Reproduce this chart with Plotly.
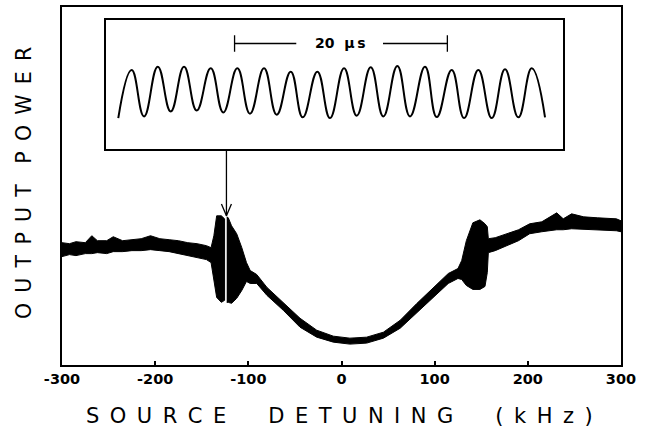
import plotly.graph_objects as go

# ---------------- data ----------------
# Main trace: envelope of the (noisy) output power vs. source detuning.
# None marks the thin white gap inside the left burst.
detuning_khz = [-300, -292, -285, -275, -268, -262, -252, -245, -235, -225,
                -215, -205, -195, -185, -175, -165, -155, -145, -140, -137,
                -134, -129, -125.5, None, -123.2, -121.5, -118, -112.5, -107, -102,
                -98, -91, -80, -62.5, -44.5, -26.6, -8.8, 9, 27, 45,
                63, 81, 98.5, 114.6, 125, 129, 134, 141, 148.6, 154,
                156.5, 157.6, 165, 177, 190, 202, 215, 231, 238, 247,
                260, 275, 295, 300]
power_upper = [123, 122, 124, 123, 130, 125, 125, 129, 125, 126,
               127, 130, 127, 126, 125, 123, 122, 120, 118, 130,
               150, 150, 147, None, 149, 148, 140, 132, 118, 103,
               95, 91, 78, 63, 47, 35, 29, 27, 28, 33,
               45, 62, 78, 92, 97, 105, 125, 143, 146, 142,
               139, 127, 128, 132, 136, 142, 144, 153, 147, 152,
               149, 148, 147, 145]
power_lower = [109, 111, 110, 112, 112, 113, 112, 114, 114, 115,
               115, 116, 115, 114, 112, 110, 108, 106, 103, 85,
               68, 63, 65, None, 63, 63, 62, 67, 75, 84,
               82, 82, 70, 55, 38, 28, 23, 21, 22, 27,
               37, 52, 68, 82, 87, 86, 80, 76, 76, 79,
               93, 113, 115, 120, 125, 132, 134, 136, 136, 137,
               137, 136, 135, 134]

# Inset oscilloscope trace (extrema of the beat signal), time in microseconds
inset_time_us = [1.17, 2.43, 3.59, 4.88, 6.10, 7.35, 8.54, 9.86, 11.04, 12.36,
                 13.55, 14.87, 16.06, 17.38, 18.51, 19.88, 21.07, 22.39, 23.58, 24.90,
                 26.08, 27.40, 28.59, 30.00, 31.10, 32.51, 33.67, 35.01, 36.27, 37.52,
                 38.77, 40.03, 41.28]
inset_signal = [31.3, 79.7, 33.0, 83.0, 38.0, 83.0, 39.0, 81.3, 37.0, 81.3,
                35.7, 81.3, 34.7, 78.0, 32.0, 78.0, 31.3, 81.3, 33.7, 82.3,
                33.0, 83.7, 33.0, 83.0, 32.3, 79.7, 31.3, 79.7, 31.3, 80.3,
                32.0, 81.3, 32.0]

inset_detuning_khz = -123.5      # where the inset was recorded (arrow target)
arrow_tip_power = 150
scalebar_start_us = 12.1
scalebar_length_us = 20
scalebar_label = "20\u00a0\u00a0\u03bc\u2009s"

x_ticks = [-300, -200, -100, 0, 100, 200, 300]
x_ticklabels = ["-300", "-200", "-100", "0", "100", "200", "300"]

# ---------------- figure ----------------
W, H = 647, 431
ML, MR, MT, MB = 62, 26, 5, 66
Y_RANGE = [0, 360]
INSET_X = [0.0784, 0.8959]
INSET_Y = [0.6028, 0.9639]
INSET_T_RANGE = [0, 42.95]
INSET_S_RANGE = [0, 130]

fig = go.Figure()

# main band, split into segments at None
segs, cur = [], []
for x, u, l in zip(detuning_khz, power_upper, power_lower):
    if x is None:
        segs.append(cur)
        cur = []
    else:
        cur.append((x, u, l))
segs.append(cur)
for seg in segs:
    xs = [p[0] for p in seg]
    us = [p[1] for p in seg]
    ls = [p[2] for p in seg]
    fig.add_trace(go.Scatter(
        x=xs + xs[::-1], y=us + ls[::-1], mode="lines", fill="toself",
        fillcolor="black", line=dict(color="black", width=1),
        hoverinfo="skip", showlegend=False))

# arrow from the inset down to the burst
shaft_top = Y_RANGE[0] + INSET_Y[0] * (Y_RANGE[1] - Y_RANGE[0])
kx = 600 / (W - ML - MR)          # kHz per pixel
ky = (Y_RANGE[1] - Y_RANGE[0]) / (H - MT - MB)
fig.add_trace(go.Scatter(
    x=[inset_detuning_khz, inset_detuning_khz, None,
       inset_detuning_khz - 5 * kx, inset_detuning_khz, inset_detuning_khz + 5 * kx],
    y=[shaft_top, arrow_tip_power, None,
       arrow_tip_power + 12 * ky, arrow_tip_power, arrow_tip_power + 12 * ky],
    mode="lines", line=dict(color="black", width=1.3),
    hoverinfo="skip", showlegend=False))

# inset trace
fig.add_trace(go.Scatter(
    x=inset_time_us, y=inset_signal, mode="lines",
    line=dict(color="black", width=2, shape="spline", smoothing=1.3),
    xaxis="x2", yaxis="y2", hoverinfo="skip", showlegend=False))

# scale bar
sb0 = scalebar_start_us
sb1 = scalebar_start_us + scalebar_length_us
mid = (sb0 + sb1) / 2
sb_y, sb_h = 106.3, 8.3
fig.add_trace(go.Scatter(
    x=[sb0, sb0, None, sb0, mid - 4.2, None, mid + 3.95, sb1, None, sb1, sb1],
    y=[sb_y - sb_h, sb_y + sb_h, None, sb_y, sb_y, None, sb_y, sb_y, None,
       sb_y - sb_h, sb_y + sb_h],
    mode="lines", line=dict(color="black", width=1.3),
    xaxis="x2", yaxis="y2", hoverinfo="skip", showlegend=False))
fig.add_annotation(x=mid, y=sb_y, xref="x2", yref="y2", text=scalebar_label,
                   showarrow=False, xanchor="center", yanchor="middle",
                   font=dict(family="DejaVu Sans", size=14, color="black", weight="bold"))

EN, EM = "\u2002", "\u2003"


def spaced(words, word_gap):
    return word_gap.join(EN.join(w) for w in words)


fig.add_annotation(x=(339 - ML) / (W - ML - MR), y=(MT + 360 - 416) / 360,
                   xref="paper", yref="paper",
                   text=spaced(["SOURCE", "DETUNING", "(kHz)"], EM + EM),
                   showarrow=False, xanchor="center", yanchor="middle",
                   font=dict(family="DejaVu Sans", size=21, color="black"))
fig.add_annotation(x=(24 - ML) / (W - ML - MR), y=(MT + 360 - 182) / 360,
                   xref="paper", yref="paper",
                   text=spaced(["OUTPUT", "POWER"], EM),
                   textangle=-90, showarrow=False, xanchor="center", yanchor="middle",
                   font=dict(family="DejaVu Sans", size=20.5, color="black"))

fig.update_layout(
    width=W, height=H,
    margin=dict(l=ML, r=MR, t=MT, b=MB, pad=0),
    paper_bgcolor="white", plot_bgcolor="white",
    showlegend=False,
    xaxis=dict(range=[-300, 300], tickvals=x_ticks, ticktext=x_ticklabels,
               ticks="inside", ticklen=4, tickwidth=1.5, tickcolor="black",
               showline=True, linecolor="black", linewidth=1.8, mirror=True,
               showgrid=False, zeroline=False,
               tickfont=dict(family="DejaVu Sans", size=14.5, color="black", weight="bold")),
    yaxis=dict(range=Y_RANGE, showticklabels=False, ticks="",
               showline=True, linecolor="black", linewidth=1.8, mirror=True,
               showgrid=False, zeroline=False),
    xaxis2=dict(domain=INSET_X, anchor="y2", range=INSET_T_RANGE,
                showline=True, linecolor="black", linewidth=1.5, mirror=True,
                showticklabels=False, ticks="", showgrid=False, zeroline=False),
    yaxis2=dict(domain=INSET_Y, anchor="x2", range=INSET_S_RANGE,
                showline=True, linecolor="black", linewidth=1.5, mirror=True,
                showticklabels=False, ticks="", showgrid=False, zeroline=False),
)

fig.write_html("out.html")
